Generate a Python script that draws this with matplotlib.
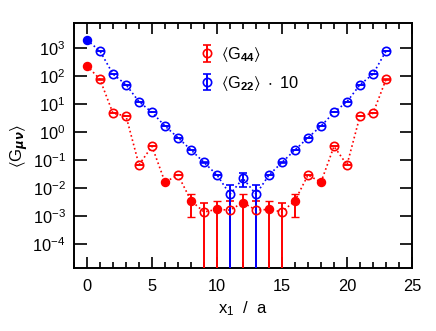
import matplotlib
matplotlib.use("Agg")
import matplotlib.pyplot as plt
from matplotlib.ticker import MultipleLocator, NullLocator
import numpy as np

plt.rcParams['font.family'] = ['Liberation Sans', 'DejaVu Sans']
plt.rcParams['mathtext.fontset'] = 'custom'
plt.rcParams['mathtext.rm'] = 'Liberation Sans'
plt.rcParams['mathtext.it'] = 'Liberation Sans:italic'
plt.rcParams['mathtext.bf'] = 'Liberation Sans:bold'
plt.rcParams['mathtext.default'] = 'regular'

# ---- data ----
x1 = list(range(24))
g44 = [240, 77, 4.7, 3.8, 0.067, 0.31, 0.016, 0.029, 0.0035, 0.00138, 0.0017, 0.0016,
       0.0030, 0.0016, 0.0017, 0.00138, 0.0035, 0.029, 0.016, 0.31, 0.067, 3.8, 4.7, 77]
g44_err = [2, 1, 0.05, 0.04, 0.001, 0.003, 0.0002, 0.0004, 0.0026, 0.0015, 0.0018, 0.0017,
           0.0031, 0.0017, 0.0018, 0.0015, 0.0026, 0.0004, 0.0002, 0.003, 0.001, 0.04, 0.05, 1]
g44_filled = [1, 0, 0, 0, 0, 0, 1, 0, 1, 0, 1, 0, 1, 0, 1, 0, 1, 0, 1, 0, 0, 0, 0, 0]

g22x10 = [2000, 800, 120, 50, 12.3, 5.1, 1.65, 0.63, 0.23, 0.082, 0.029, 0.0059,
          0.022, 0.0059, 0.029, 0.082, 0.23, 0.63, 1.65, 5.1, 12.3, 50, 120, 800]
g22x10_err = [15, 6, 1, 0.4, 0.1, 0.04, 0.015, 0.006, 0.002, 0.001, 0.0008, 0.0068,
              0.011, 0.0068, 0.0008, 0.001, 0.002, 0.006, 0.015, 0.04, 0.1, 0.4, 1, 6]
g22x10_filled = [1] + [0] * 23

label44 = r'$\langle\mathrm{G}_{\mathbf{44}}\rangle$'
label22 = r'$\langle\mathrm{G}_{\mathbf{22}}\rangle\ \cdot\ 10$'

RED = '#ff0000'
BLUE = '#0000ff'

fig = plt.figure(figsize=(4.36, 3.31), dpi=100)
ax = fig.add_axes([74/436, 63/331, 338/436, 245/331])
ax.set_yscale('log')

def draw(vals, errs, filled, color, label):
    x = np.array(x1)
    v = np.array(vals, dtype=float)
    e = np.array(errs, dtype=float)
    f = np.array(filled, dtype=bool)
    ax.plot(x, v, linestyle=':', color=color, lw=1.2, zorder=1)
    h = ax.errorbar(x[~f], v[~f], yerr=e[~f], fmt='o', ms=6, mfc='none', mec=color,
                    mew=1.2, ecolor=color, elinewidth=1.4, capsize=3, capthick=1.4,
                    color=color, label=label, zorder=3)
    ax.errorbar(x[f], v[f], yerr=e[f], fmt='o', ms=5.8, mfc=color, mec=color,
                mew=1.0, ecolor=color, elinewidth=1.4, capsize=3, capthick=1.4,
                color=color, zorder=3)
    return h

h1 = draw(g44, g44_err, g44_filled, RED, label44)
h2 = draw(g22x10, g22x10_err, g22x10_filled, BLUE, label22)

ax.set_xlim(-1, 25)
ax.xaxis.set_major_locator(MultipleLocator(5))
ax.xaxis.set_minor_locator(MultipleLocator(1))
ax.set_yticks([10.0**k for k in range(-4, 4)])
ax.yaxis.set_minor_locator(NullLocator())
ax.set_ylim(10**-4.87, 10**3.91)

for s in ax.spines.values():
    s.set_linewidth(1.4)
ax.tick_params(which='both', direction='in', top=True, right=True, width=1.4,
               labelsize=11.8, color='#222222')
ax.tick_params(which='major', length=8)
ax.tick_params(which='minor', length=4)
ax.tick_params(axis='x', which='major', pad=8)
ax.tick_params(axis='y', which='major', pad=6, length=9)

ax.set_xlabel(r'$\mathrm{x}_{1}\ \ /\ \ \mathrm{a}$', fontsize=12)
ax.set_ylabel(r'$\langle\mathrm{G}_{\boldsymbol{\mu\nu}}\rangle$', fontsize=12, labelpad=2)

leg = ax.legend(handles=[h1, h2], loc='upper left', bbox_to_anchor=(0.33, 0.97),
                frameon=False, fontsize=11.8, handlelength=0.8, handletextpad=0.45,
                labelspacing=0.6)

fig.savefig('out.png', dpi=100)
